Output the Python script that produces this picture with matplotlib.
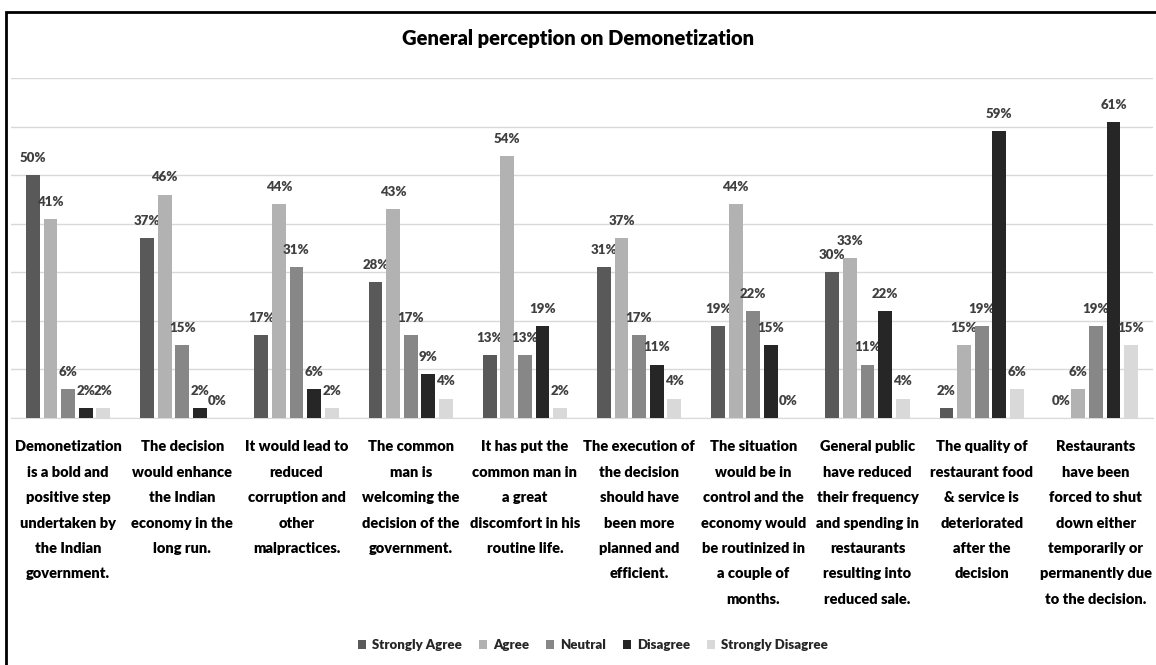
import numpy as np
import matplotlib.pyplot as plt
from matplotlib.patches import Rectangle

plt.rcParams['font.family'] = ['Lato', 'DejaVu Sans']
plt.rcParams['font.weight'] = 'heavy'

# statements
categories = [
    "Demonetization\nis a bold and\npositive step\nundertaken by\nthe Indian\ngovernment.",
    "The decision\nwould enhance\nthe Indian\neconomy in the\nlong run.",
    "It would lead to\nreduced\ncorruption and\nother\nmalpractices.",
    "The common\nman is\nwelcoming the\ndecision of the\ngovernment.",
    "It has put the\ncommon man in\na great\ndiscomfort in his\nroutine life.",
    "The execution of\nthe decision\nshould have\nbeen more\nplanned and\nefficient.",
    "The situation\nwould be in\ncontrol and the\neconomy would\nbe routinized in\na couple of\nmonths.",
    "General public\nhave reduced\ntheir frequency\nand spending in\nrestaurants\nresulting into\nreduced sale.",
    "The quality of\nrestaurant food\n& service is\ndeteriorated\nafter the\ndecision",
    "Restaurants\nhave been\nforced to shut\ndown either\ntemporarily or\npermanently due\nto the decision.",
]

series = ["Strongly Agree", "Agree", "Neutral", "Disagree", "Strongly Disagree"]
strongly_agree = [50, 37, 17, 28, 13, 31, 19, 30, 2, 0]
agree = [41, 46, 44, 43, 54, 37, 44, 33, 15, 6]
neutral = [6, 15, 31, 17, 13, 17, 22, 11, 19, 19]
disagree = [2, 2, 6, 9, 19, 11, 15, 22, 59, 61]
strongly_disagree = [2, 0, 2, 4, 2, 4, 0, 4, 6, 15]
values = [strongly_agree, agree, neutral, disagree, strongly_disagree]
colors = ['#595959', '#b2b2b2', '#878787', '#262626', '#d9d9d9']

fig = plt.figure(figsize=(11.56, 6.65), dpi=100)
ax = fig.add_axes([11/1156, 1-418/665, 1142/1156, 340/665])

x = np.arange(len(categories))
w = 0.12
pitch = 0.154
for i, (name, vals, c) in enumerate(zip(series, values, colors)):
    pos = x + (i - 2) * pitch
    bars = ax.bar(pos, vals, width=w, color=c, label=name, zorder=3)
    ax.bar_label(bars, labels=[f"{v}%" for v in vals], padding=8,
                 fontsize=9.5, color='#404040')

ax.set_xlim(-0.5, 9.5)
ax.set_ylim(0, 70)
ax.set_yticks(np.arange(0, 71, 10))
ax.set_yticklabels([])
ax.grid(axis='y', color='#d9d9d9', lw=1, zorder=0)
ax.tick_params(length=0)
for s in ['top', 'left', 'right']:
    ax.spines[s].set_visible(False)
ax.spines['bottom'].set_color('#d9d9d9')
ax.set_xticks(x)
ax.set_xticklabels(categories, fontsize=10.5, linespacing=2.13, va='top')
ax.tick_params(axis='x', pad=16)

fig.text(0.5, 1-38/665, "General perception on Demonetization",
         ha='center', va='center', fontsize=14.5)

leg = fig.legend(loc='center', bbox_to_anchor=(593/1156, 1-645/665), ncol=5,
                 frameon=False, fontsize=9.5, handlelength=0.6, handleheight=0.6,
                 columnspacing=1.3, handletextpad=0.45)
for t in leg.get_texts():
    t.set_color('#262626')

fig.patches.append(Rectangle((6/1156, -0.1), 1.2, 1-12/665+0.1,
                             transform=fig.transFigure, fill=False,
                             ec='black', lw=2))

fig.savefig('out.png', dpi=100)
